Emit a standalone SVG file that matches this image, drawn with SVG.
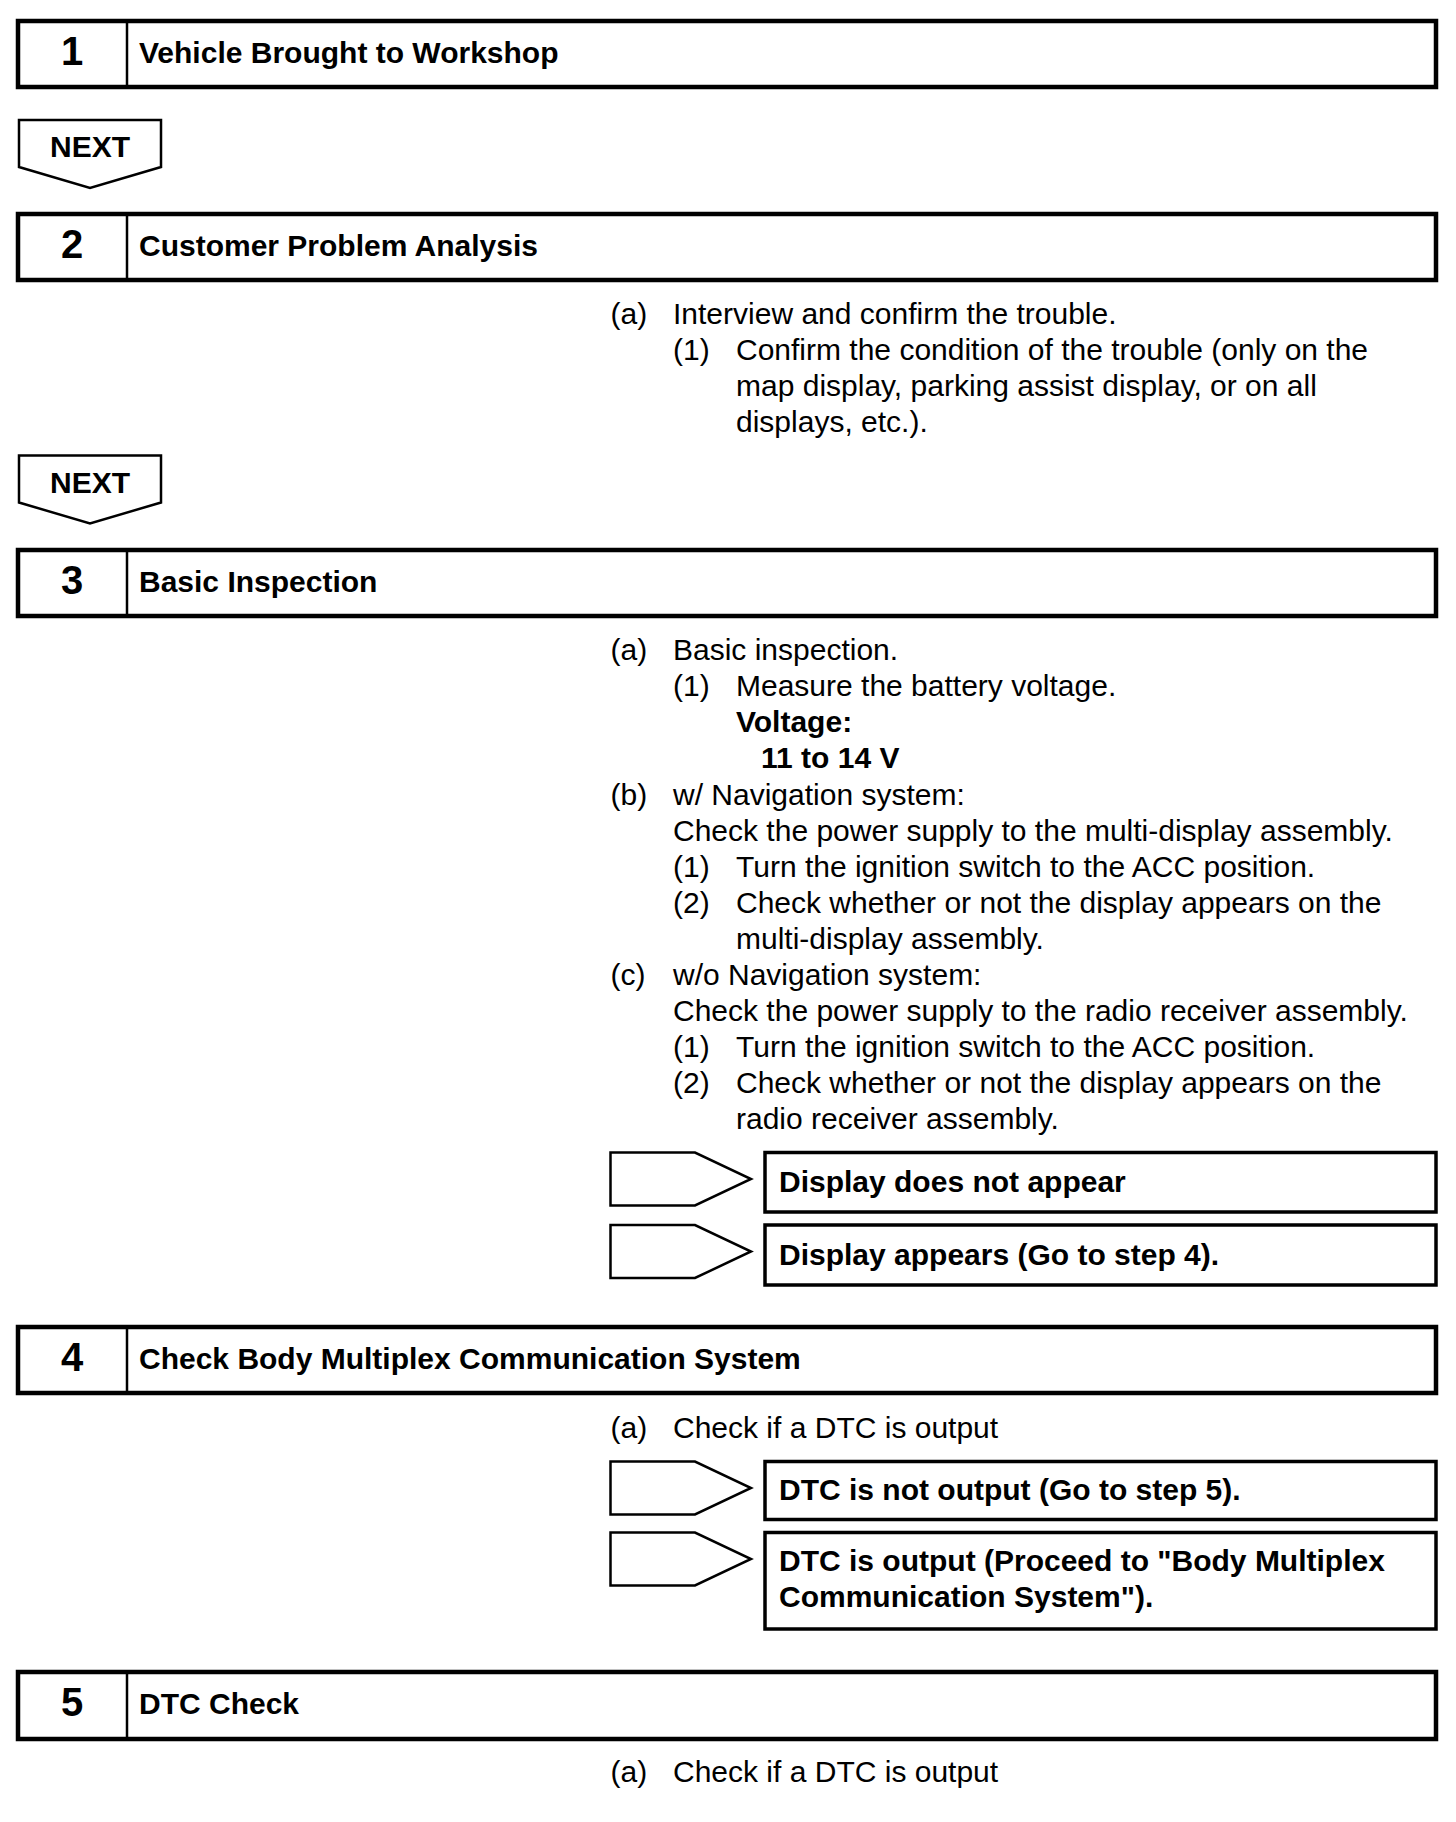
<svg xmlns="http://www.w3.org/2000/svg" width="1456" height="1822" viewBox="0 0 1456 1822">
<style>
.box{fill:#fff;stroke:#000;stroke-width:4.5}
.div{stroke:#000;stroke-width:2.5}
.res{fill:#fff;stroke:#000;stroke-width:3.5}
.ptr{fill:#fff;stroke:#000;stroke-width:2.5;stroke-linejoin:miter}
.num{font-family:"Liberation Sans",Arial,sans-serif;font-weight:bold;font-size:40px;text-anchor:middle}
.ttl{font-family:"Liberation Sans",Arial,sans-serif;font-weight:bold;font-size:30px}
.t{font-family:"Liberation Sans",Arial,sans-serif;font-size:30px}
.b{font-family:"Liberation Sans",Arial,sans-serif;font-size:30px;font-weight:bold}
.nx{font-family:"Liberation Sans",Arial,sans-serif;font-weight:bold;font-size:30px;text-anchor:middle}
</style>
<rect width="1456" height="1822" fill="#fff"/>

<g id="connectors">
  <g id="next1">
    <polygon class="ptr" points="19,120 161,120 161,167 90,188 19,167"/>
    <text class="nx" x="90" y="157">NEXT</text>
  </g>
  <g id="next2">
    <polygon class="ptr" points="19,455.5 161,455.5 161,502.5 90,523.5 19,502.5"/>
    <text class="nx" x="90" y="492.5">NEXT</text>
  </g>
  <polygon id="ptr3a" class="ptr" points="610.5,1152.5 695,1152.5 751,1179 695,1205.5 610.5,1205.5"/>
  <polygon id="ptr3b" class="ptr" points="610.5,1225 695,1225 751,1251.5 695,1278 610.5,1278"/>
  <polygon id="ptr4a" class="ptr" points="610.5,1461.5 695,1461.5 751,1488 695,1514.5 610.5,1514.5"/>
  <polygon id="ptr4b" class="ptr" points="610.5,1532.5 695,1532.5 751,1559 695,1585.5 610.5,1585.5"/>
</g>

<g id="step1">
  <rect class="box" x="18" y="21" width="1418" height="66"/>
  <line class="div" x1="127" y1="21" x2="127" y2="87"/>
  <text class="num" x="72" y="65">1</text>
  <text class="ttl" x="139" y="63">Vehicle Brought to Workshop</text>
</g>

<g id="step2">
  <rect class="box" x="18" y="214" width="1418" height="66"/>
  <line class="div" x1="127" y1="214" x2="127" y2="280"/>
  <text class="num" x="72" y="258">2</text>
  <text class="ttl" x="139" y="256">Customer Problem Analysis</text>
</g>

<g id="step2-text">
  <text class="t" x="610.5" y="324">(a)</text>
  <text class="t" x="673" y="324">Interview and confirm the trouble.</text>
  <text class="t" x="673" y="360">(1)</text>
  <text class="t" x="736" y="360">Confirm the condition of the trouble (only on the</text>
  <text class="t" x="736" y="396">map display, parking assist display, or on all</text>
  <text class="t" x="736" y="432">displays, etc.).</text>
</g>

<g id="step3">
  <rect class="box" x="18" y="550" width="1418" height="66"/>
  <line class="div" x1="127" y1="550" x2="127" y2="616"/>
  <text class="num" x="72" y="594">3</text>
  <text class="ttl" x="139" y="592">Basic Inspection</text>
</g>

<g id="step3-text">
  <text class="t" x="610.5" y="660">(a)</text>
  <text class="t" x="673" y="660">Basic inspection.</text>
  <text class="t" x="673" y="696">(1)</text>
  <text class="t" x="736" y="696">Measure the battery voltage.</text>
  <text class="b" x="736" y="732">Voltage:</text>
  <text class="b" x="761" y="768">11 to 14 V</text>
  <text class="t" x="610.5" y="804.5">(b)</text>
  <text class="t" x="673" y="804.5">w/ Navigation system:</text>
  <text class="t" x="673" y="840.5">Check the power supply to the multi-display assembly.</text>
  <text class="t" x="673" y="876.5">(1)</text>
  <text class="t" x="736" y="876.5">Turn the ignition switch to the ACC position.</text>
  <text class="t" x="673" y="912.5">(2)</text>
  <text class="t" x="736" y="912.5">Check whether or not the display appears on the</text>
  <text class="t" x="736" y="948.5">multi-display assembly.</text>
  <text class="t" x="610.5" y="984.5">(c)</text>
  <text class="t" x="673" y="984.5">w/o Navigation system:</text>
  <text class="t" x="673" y="1020.5">Check the power supply to the radio receiver assembly.</text>
  <text class="t" x="673" y="1056.5">(1)</text>
  <text class="t" x="736" y="1056.5">Turn the ignition switch to the ACC position.</text>
  <text class="t" x="673" y="1092.5">(2)</text>
  <text class="t" x="736" y="1092.5">Check whether or not the display appears on the</text>
  <text class="t" x="736" y="1128.5">radio receiver assembly.</text>
</g>

<g id="result3a">
  <rect class="res" x="765" y="1152.5" width="671" height="59.5"/>
  <text class="b" x="779" y="1192">Display does not appear</text>
</g>
<g id="result3b">
  <rect class="res" x="765" y="1225" width="671" height="60"/>
  <text class="b" x="779" y="1264.5">Display appears (Go to step 4).</text>
</g>

<g id="step4">
  <rect class="box" x="18" y="1327" width="1418" height="66"/>
  <line class="div" x1="127" y1="1327" x2="127" y2="1393"/>
  <text class="num" x="72" y="1371">4</text>
  <text class="ttl" x="139" y="1369">Check Body Multiplex Communication System</text>
</g>

<g id="step4-text">
  <text class="t" x="610.5" y="1438">(a)</text>
  <text class="t" x="673" y="1438">Check if a DTC is output</text>
</g>

<g id="result4a">
  <rect class="res" x="765" y="1461.5" width="671" height="58"/>
  <text class="b" x="779" y="1500">DTC is not output (Go to step 5).</text>
</g>
<g id="result4b">
  <rect class="res" x="765" y="1532.5" width="671" height="96.5"/>
  <text class="b" x="779" y="1571">DTC is output (Proceed to &quot;Body Multiplex</text>
  <text class="b" x="779" y="1607">Communication System&quot;).</text>
</g>

<g id="step5">
  <rect class="box" x="18" y="1672" width="1418" height="67"/>
  <line class="div" x1="127" y1="1672" x2="127" y2="1739"/>
  <text class="num" x="72" y="1716">5</text>
  <text class="ttl" x="139" y="1714">DTC Check</text>
</g>

<g id="step5-text">
  <text class="t" x="610.5" y="1782">(a)</text>
  <text class="t" x="673" y="1782">Check if a DTC is output</text>
</g>
</svg>
